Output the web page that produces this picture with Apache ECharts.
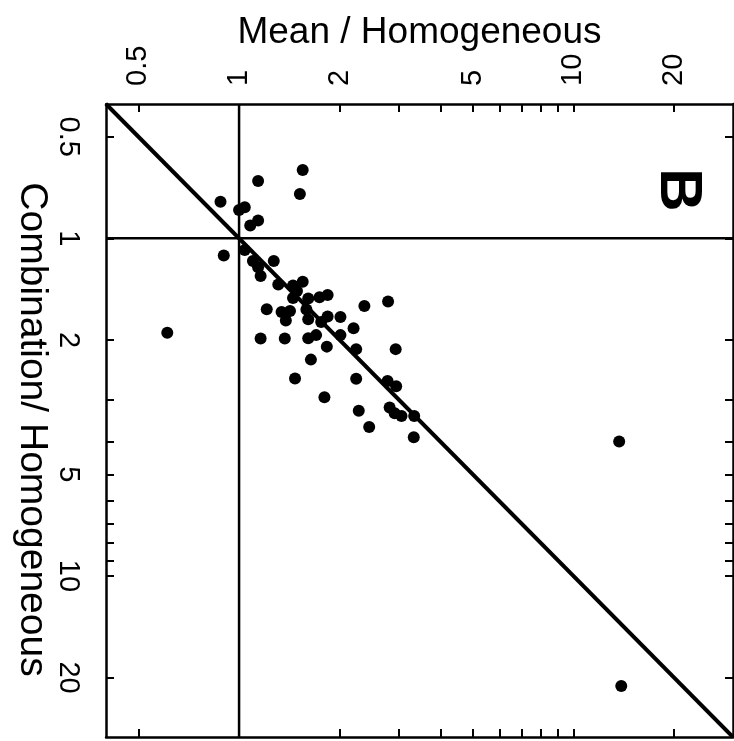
<!DOCTYPE html>
<html>
<head>
<meta charset="utf-8">
<script src="https://cdn.jsdelivr.net/npm/echarts@6/dist/echarts.min.js"></script>
<style>
html,body{margin:0;padding:0;background:#fff;}
#chart{width:734px;height:741px;}
</style>
</head>
<body>
<div id="chart"></div>
<script>
// Data (panel B)
const meanHomog = [1.55,1.14,1.52,0.88,1.00,1.04,1.14,1.08,0.90,1.04,1.10,1.27,1.14,1.16,1.31,1.45,1.55,1.49,1.45,1.61,1.74,1.84,2.37,2.79,1.21,1.34,1.42,1.38,1.59,1.61,1.76,1.84,2.01,2.20,2.01,0.61,1.16,1.37,1.61,1.70,1.83,2.24,2.94,1.64,1.47,2.24,2.78,2.95,1.80,2.28,2.82,2.92,3.06,3.34,2.45,3.33,13.7,13.9];
const combHomog = [0.627,0.676,0.739,0.779,0.824,0.809,0.886,0.916,1.124,1.082,1.167,1.167,1.219,1.292,1.370,1.379,1.344,1.432,1.502,1.507,1.494,1.471,1.586,1.538,1.622,1.652,1.641,1.751,1.626,1.737,1.769,1.703,1.709,1.846,1.935,1.903,1.980,1.980,1.977,1.935,2.093,2.129,2.129,2.287,2.600,2.604,2.645,2.742,2.954,3.242,3.169,3.296,3.362,3.357,3.620,3.884,4.00,21.2];
const tickLabels = [0.5, 1, 2, 5, 10, 20];
const tickMarks = [0.5, 1, 2, 3, 4, 5, 6, 7, 8, 9, 10, 20];
const axisMin = 0.4, axisMax = 30;
const refValue = 1;
const xTitle = 'Mean / Homogeneous';
const yTitle = 'Combination/ Homogeneous';
const panelLabel = 'B';

const FONT = '"Liberation Sans", Arial, Helvetica, sans-serif';
const chart = echarts.init(document.getElementById('chart'), null, {renderer:'canvas'});

function fmt(v){ return String(+(+v).toPrecision(3)); }

function axisBase(extra){
  return Object.assign({
    type:'log', logBase:10, min:axisMin, max:axisMax,
    axisLine:{show:true, onZero:false, lineStyle:{color:'#000', width:2.5}},
    axisTick:{show:true, inside:true, length:8, lineStyle:{color:'#000', width:2}, customValues:tickMarks},
    minorTick:{show:false},
    splitLine:{show:false},
    axisLabel:{show:false}
  }, extra);
}

const pts = meanHomog.map((x,i)=>[x, combHomog[i]]);

chart.setOption({
  animation:false,
  backgroundColor:'#fff',
  grid:{left:106, top:104, width:627, height:633, containLabel:false},
  xAxis:[
    axisBase({position:'top', name:xTitle, nameLocation:'middle', nameGap:53, nameMoveOverlap:false,
      nameTextStyle:{color:'#000', fontSize:37, fontFamily:FONT},
      axisLabel:{show:true, rotate:-90, color:'#000', fontSize:29, fontFamily:FONT, margin:18, customValues:tickLabels, formatter:fmt}}),
    axisBase({position:'bottom'})
  ],
  yAxis:[
    axisBase({position:'left', inverse:true, name:yTitle, nameLocation:'middle', nameRotate:-90, nameGap:55, nameMoveOverlap:false,
      nameTextStyle:{color:'#000', fontSize:39, fontFamily:FONT, padding:[0,0,0,18]},
      axisLabel:{show:true, rotate:-90, color:'#000', fontSize:29, fontFamily:FONT, margin:24, customValues:tickLabels, formatter:fmt}}),
    axisBase({position:'right', inverse:true})
  ],
  series:[
    {type:'line', xAxisIndex:0, yAxisIndex:0, data:[[axisMin,axisMin],[axisMax,axisMax]], symbol:'none',
      lineStyle:{color:'#000', width:4}, silent:true},
    {type:'line', xAxisIndex:0, yAxisIndex:0, data:[[refValue,axisMin],[refValue,axisMax]], symbol:'none',
      lineStyle:{color:'#000', width:2.5}, silent:true},
    {type:'line', xAxisIndex:0, yAxisIndex:0, data:[[axisMin,refValue],[axisMax,refValue]], symbol:'none',
      lineStyle:{color:'#000', width:2.5}, silent:true},
    {type:'scatter', xAxisIndex:0, yAxisIndex:0, data:pts, symbol:'circle', symbolSize:12,
      itemStyle:{color:'#000', opacity:1}}
  ],
  graphic:[
    {type:'text', x:678, y:190, rotation:-Math.PI/2,
      style:{text:panelLabel, fontSize:60, fontWeight:'bold', fontFamily:FONT, fill:'#000', align:'center', verticalAlign:'middle'}}
  ]
});
</script>
</body>
</html>
